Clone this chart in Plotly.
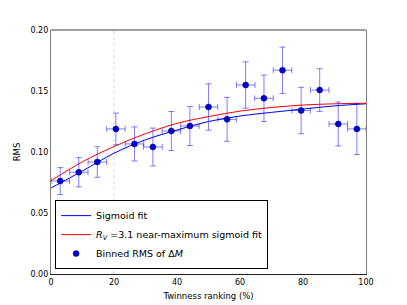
import plotly.graph_objects as go

# Binned data
bin_x = [2.94, 8.82, 14.7, 20.6, 26.5, 32.35, 38.2, 44.1, 50.0, 55.9,
         61.8, 67.6, 73.5, 79.4, 85.3, 91.2, 97.1]
bin_rms = [0.0762, 0.0834, 0.0918, 0.1189, 0.1066, 0.1041, 0.1172, 0.1213, 0.1369,
           0.1268, 0.1549, 0.1440, 0.1670, 0.1340, 0.1508, 0.1230, 0.1189]
bin_xerr = [2.94] * 17
bin_yerr = [0.011, 0.012, 0.0125, 0.013, 0.014, 0.0155, 0.016, 0.016, 0.019, 0.018,
            0.019, 0.019, 0.019, 0.019, 0.0175, 0.018, 0.021]

# Fit curves
fit_x = [0, 10, 20, 30, 40, 50, 60, 70, 80, 90, 100]
sigmoid_fit = [0.0705, 0.0845, 0.0990, 0.1100, 0.1180, 0.1250, 0.1295, 0.1325, 0.1352, 0.1378, 0.1395]
rv_fit = [0.0765, 0.0920, 0.1045, 0.1150, 0.1235, 0.1290, 0.1335, 0.1365, 0.1385, 0.1395, 0.1400]

xticks = [0, 20, 40, 60, 80, 100]
yticks = [0.00, 0.05, 0.10, 0.15, 0.20]

FONT = "DejaVu Sans"

fig = go.Figure()

fig.add_trace(go.Scatter(
    x=fit_x, y=sigmoid_fit, mode="lines", line=dict(color="#0000ff", width=1, shape="spline"),
    name="Sigmoid fit"))
fig.add_trace(go.Scatter(
    x=fit_x, y=rv_fit, mode="lines", line=dict(color="#ff0000", width=1, shape="spline"),
    name="<i>R</i><sub><i>V</i></sub> =3.1 near-maximum sigmoid fit"))
fig.add_trace(go.Scatter(
    x=bin_x, y=bin_rms, mode="markers",
    marker=dict(color="#0000cc", size=6, line=dict(color="#000080", width=0.5)),
    error_x=dict(type="data", array=bin_xerr, color="rgba(0,0,255,0.5)", thickness=1, width=3),
    error_y=dict(type="data", array=bin_yerr, color="rgba(0,0,255,0.5)", thickness=1, width=3),
    name="Binned RMS of Δ<i>M</i>"))

# The page body has an 8px margin, so the figure is shrunk by 8px on each side
fig.update_layout(
    width=399, height=297,
    margin=dict(l=43, r=41, t=22, b=31),
    paper_bgcolor="white", plot_bgcolor="white",
    font=dict(family=FONT, color="black", size=8),
    showlegend=True,
    legend=dict(
        x=0.013, y=0.02, xanchor="left", yanchor="bottom",
        bgcolor="white", bordercolor="black", borderwidth=1,
        font=dict(family=FONT, size=9.5, color="black"),
        itemwidth=30, tracegroupgap=0,
    ),
    xaxis=dict(
        range=[0, 100], tickvals=xticks, ticktext=[str(v) for v in xticks],
        showgrid=False, zeroline=False, showline=True, linecolor="#222", linewidth=1.3,
        ticks="", tickfont=dict(size=8), automargin=False,
        title=dict(text="Twinness ranking (%)", font=dict(size=8.5), standoff=7),
    ),
    yaxis=dict(
        range=[0, 0.2], tickvals=yticks, ticktext=[f"{v:.2f}" for v in yticks],
        showgrid=False, zeroline=False, showline=True, linecolor="#808080", linewidth=1.3,
        mirror=True, ticks="", tickfont=dict(size=8), automargin=False,
        title=dict(text="RMS", font=dict(size=8.5), standoff=8),
    ),
    shapes=[
        dict(type="line", xref="x", yref="paper", x0=20, x1=20, y0=0, y1=1,
             line=dict(color="#cccccc", width=0.8, dash="dot"), layer="below"),
        dict(type="line", xref="paper", yref="paper", x0=0, x1=1, y0=1, y1=1,
             line=dict(color="#808080", width=1.3)),
    ],
)

fig.write_html("out.html")
